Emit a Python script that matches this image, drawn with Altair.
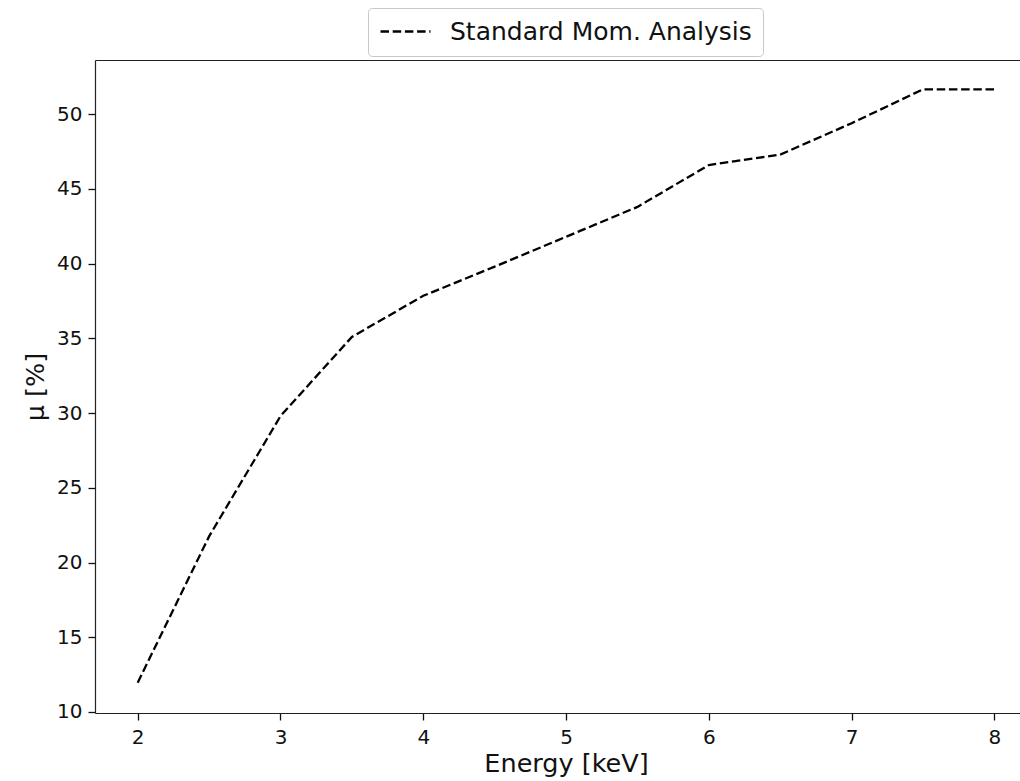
import altair as alt
import pandas as pd

energy = [2, 2.5, 3, 3.5, 4, 4.5, 5, 5.5, 6, 6.5, 7, 7.5, 8]
mu = [11.96, 21.75, 29.8, 35.1, 37.85, 39.8, 41.8, 43.8, 46.6, 47.3, 49.4, 51.67, 51.67]
series_name = "Standard Mom. Analysis"
x_ticks = [2, 3, 4, 5, 6, 7, 8]
y_ticks = [10, 15, 20, 25, 30, 35, 40, 45, 50]

df = pd.DataFrame({"energy": energy, "mu": mu, "series": [series_name] * len(energy)})

FONT = "DejaVu Sans"
DASH = [8.5, 3.7]
x_scale = alt.Scale(domain=[1.701, 8.179], nice=False, zero=False)
y_scale = alt.Scale(domain=[9.93, 53.63], nice=False, zero=False)

main = alt.Chart(df).mark_line(strokeDash=DASH, strokeWidth=2.3).encode(
    x=alt.X(
        "energy:Q",
        scale=x_scale,
        axis=alt.Axis(
            values=x_ticks, title="Energy [keV]", format="d", orient="bottom",
            grid=False, domain=True, domainColor="#222", domainWidth=1.2,
            tickSize=7, tickWidth=1.3, tickColor="#111",
            labelFont=FONT, labelFontSize=20, labelColor="#111", labelPadding=7,
            titleFont=FONT, titleFontSize=25.5, titleFontWeight="normal",
            titleColor="#111", titlePadding=4, titleX=471, titleAlign="center",
        ),
    ),
    y=alt.Y(
        "mu:Q",
        scale=y_scale,
        axis=alt.Axis(
            values=y_ticks, title="μ [%]", format="d", orient="left",
            grid=False, domain=True, domainColor="#222", domainWidth=1.2,
            tickSize=7, tickWidth=1.3, tickColor="#111",
            labelFont=FONT, labelFontSize=20, labelColor="#111", labelPadding=6,
            titleFont=FONT, titleFontSize=25.5, titleFontWeight="normal",
            titleColor="#111", titlePadding=8,
        ),
    ),
    color=alt.Color(
        "series:N",
        scale=alt.Scale(range=["black"]),
        legend=alt.Legend(
            title=None, orient="none", legendX=273, legendY=-52,
            symbolType="stroke", symbolSize=2500, symbolDash=DASH,
            symbolStrokeWidth=2.3, symbolStrokeColor="black",
            labelFont=FONT, labelFontSize=25, labelColor="#111",
            labelOffset=18, labelLimit=600, padding=11, clipHeight=25,
            fillColor="white", strokeColor="#c8c8c8", cornerRadius=4,
        ),
    ),
)

top_edge = alt.Chart(df).mark_line(opacity=0).encode(
    x=alt.X(
        "energy:Q",
        scale=x_scale,
        axis=alt.Axis(
            orient="top", title=None, labels=False, ticks=False, grid=False,
            domain=True, domainColor="#222", domainWidth=1.2,
        ),
    ),
    y=alt.Y("mu:Q", scale=y_scale, axis=None),
)

chart = alt.layer(main, top_edge).resolve_axis(
    x="independent", y="independent"
).properties(
    width=925,
    height=653,
    autosize="none",
    padding={"left": 95, "top": 60, "right": 0, "bottom": 68},
    background="white",
).configure_view(stroke=None)

chart.save("out.html", embed_options={"renderer": "svg", "actions": False})
